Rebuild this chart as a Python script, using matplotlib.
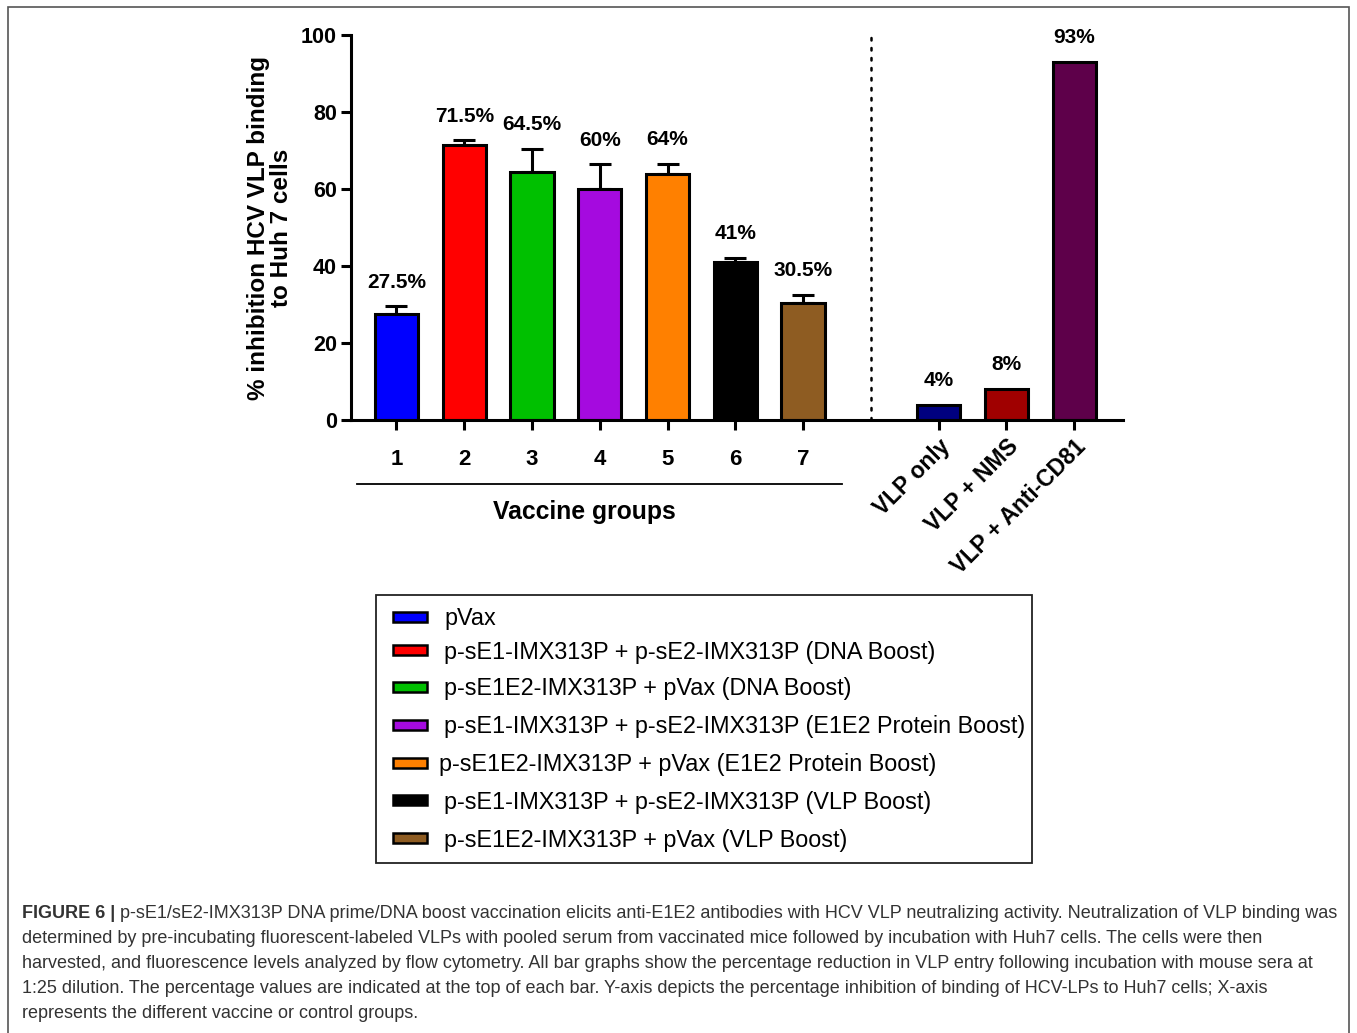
import matplotlib
matplotlib.use("Agg")
import matplotlib.pyplot as plt
from matplotlib.patches import Rectangle
import numpy as np

# ---------------- data ----------------
vaccine_groups = ["1", "2", "3", "4", "5", "6", "7"]
vaccine_values = [27.5, 71.5, 64.5, 60, 64, 41, 30.5]
vaccine_errors = [2.0, 1.1, 6.0, 6.4, 2.5, 1.2, 2.0]
vaccine_colors = ["#0000FF", "#FF0000", "#00C000", "#A50ADF", "#FF8000", "#000000", "#8E5C22"]

control_groups = ["VLP only", "VLP + NMS", "VLP + Anti-CD81"]
control_values = [4, 8, 93]
control_colors = ["#000080", "#A00000", "#5E004A"]

legend_labels = [
    "pVax",
    "p-sE1-IMX313P + p-sE2-IMX313P (DNA Boost)",
    "p-sE1E2-IMX313P + pVax (DNA Boost)",
    "p-sE1-IMX313P + p-sE2-IMX313P (E1E2 Protein Boost)",
    "p-sE1E2-IMX313P + pVax (E1E2 Protein Boost)",
    "p-sE1-IMX313P + p-sE2-IMX313P (VLP Boost)",
    "p-sE1E2-IMX313P + pVax (VLP Boost)",
]

yticks = [0, 20, 40, 60, 80, 100]
ylabel = "% inhibition HCV VLP binding\nto Huh 7 cells"
xgroup_label = "Vaccine groups"

caption_head = "FIGURE 6 | "
caption_lines = [
    "p-sE1/sE2-IMX313P DNA prime/DNA boost vaccination elicits anti-E1E2 antibodies with HCV VLP neutralizing activity. Neutralization of VLP binding was",
    "determined by pre-incubating fluorescent-labeled VLPs with pooled serum from vaccinated mice followed by incubation with Huh7 cells. The cells were then",
    "harvested, and fluorescence levels analyzed by flow cytometry. All bar graphs show the percentage reduction in VLP entry following incubation with mouse sera at",
    "1:25 dilution. The percentage values are indicated at the top of each bar. Y-axis depicts the percentage inhibition of binding of HCV-LPs to Huh7 cells; X-axis",
    "represents the different vaccine or control groups.",
]

# ---------------- figure ----------------
W, H = 1357, 1033
plt.rcParams["font.family"] = ["Liberation Sans", "DejaVu Sans"]
fig = plt.figure(figsize=(W / 100, H / 100), dpi=100)


def fx(x):
    return x / W


def fy(y):
    return 1 - y / H


# outer frame
fig.add_artist(Rectangle((fx(8), fy(1040)), fx(1349) - fx(8), fy(7) - fy(1040),
                         transform=fig.transFigure, fill=False, edgecolor="#555555", lw=1.2))

ax_left, ax_right, ax_top, ax_bot = 351, 1123, 35, 420
ax = fig.add_axes([fx(ax_left), fy(ax_bot), fx(ax_right) - fx(ax_left), fy(ax_top) - fy(ax_bot)])

x_vac = np.arange(1, len(vaccine_groups) + 1)
x_ctl = np.arange(len(vaccine_groups) + 2, len(vaccine_groups) + 2 + len(control_groups))
bw = 0.64
lw = 2.2

ax.errorbar(x_vac, vaccine_values, yerr=[np.zeros(len(vaccine_errors)), vaccine_errors],
            fmt="none", ecolor="black", elinewidth=lw, capsize=8, capthick=lw, zorder=1)
ax.bar(x_vac, vaccine_values, width=bw, color=vaccine_colors, edgecolor="black", linewidth=lw, zorder=2)
ax.bar(x_ctl, control_values, width=bw, color=control_colors, edgecolor="black", linewidth=lw, zorder=2)

# value labels
for x, v, e in zip(x_vac, vaccine_values, vaccine_errors):
    ax.annotate(f"{v:g}%", xy=(x, v + e), xytext=(0, 17.5), textcoords="offset points",
                ha="center", va="center", fontsize=15, fontweight="bold")
for x, v in zip(x_ctl, control_values):
    ax.annotate(f"{v:g}%", xy=(x, v), xytext=(0, 17.5), textcoords="offset points",
                ha="center", va="center", fontsize=15, fontweight="bold")

# dotted separator
sep = len(vaccine_groups) + 1
ax.plot([sep, sep], [0, 100], color="black", lw=1.8, linestyle=(0, (1, 3)),
        dash_capstyle="round", solid_capstyle="round", zorder=1)

ax.set_xlim(0.33, 11.72)
ax.set_ylim(0, 100)
ax.set_yticks(yticks)
ax.set_yticklabels([str(t) for t in yticks], fontsize=15.5, fontweight="bold")

ax.set_xticks(list(x_vac) + list(x_ctl))
ax.set_xticklabels(vaccine_groups + control_groups, fontsize=16, fontweight="bold")
ticks = ax.xaxis.get_major_ticks()
labels = ax.get_xticklabels()
for i, (t, lab) in enumerate(zip(ticks, labels)):
    if i < len(vaccine_groups):
        t.set_pad(14)
    else:
        t.set_pad(4)
        lab.set_fontsize(16.5)
        lab.set_rotation(45)
        lab.set_ha("right")
        lab.set_va("top")
        lab.set_rotation_mode("anchor")

for s in ["top", "right"]:
    ax.spines[s].set_visible(False)
for s in ["left", "bottom"]:
    ax.spines[s].set_linewidth(lw)
ax.tick_params(axis="both", direction="out", width=lw, length=7, colors="black")
ax.tick_params(axis="y", pad=3)

ax.set_ylabel(ylabel, fontsize=17.5, fontweight="bold", linespacing=1.0)
ax.yaxis.set_label_coords(-0.075, 0.5)

# vaccine group bracket line and label
trans = ax.get_xaxis_transform()
ax.plot([0.417, 7.57], [-0.166, -0.166], transform=trans, color="black", lw=1.3, clip_on=False)
ax.text(3.78, -0.239, xgroup_label, transform=trans, ha="center", va="center",
        fontsize=17.8, fontweight="bold")

# ---------------- legend ----------------
lx0, ly0, lx1, ly1 = 376, 595, 1032, 863
fig.add_artist(Rectangle((fx(lx0), fy(ly1)), fx(lx1) - fx(lx0), fy(ly0) - fy(ly1),
                         transform=fig.transFigure, fill=False, edgecolor="#222222", lw=1.3))
row_y = [617, 650, 687, 725, 763, 800, 838]
for yc, lab, col in zip(row_y, legend_labels, vaccine_colors):
    fig.add_artist(Rectangle((fx(393), fy(yc + 5)), fx(427) - fx(393), fy(yc - 5) - fy(yc + 5),
                             transform=fig.transFigure, facecolor=col, edgecolor="black", lw=1.8))
    tx = 439 if lab == legend_labels[4] else 444
    fig.text(fx(tx), fy(yc + 2), lab, ha="left", va="center", fontsize=16.8)

# ---------------- caption ----------------
cap_color = "#333333"
cap_fs = 13
renderer = fig.canvas.get_renderer()
head = fig.text(fx(22), fy(913), caption_head, ha="left", va="center",
                fontsize=cap_fs, fontweight="bold", color=cap_color)
bb = head.get_window_extent(renderer=renderer)
for i, line in enumerate(caption_lines):
    y = fy(913 + i * 25.2)
    if i == 0:
        fig.text(bb.x1 / W, y, line, ha="left", va="center", fontsize=cap_fs, color=cap_color)
    else:
        fig.text(fx(22), y, line, ha="left", va="center", fontsize=cap_fs, color=cap_color)

fig.savefig("out.png", dpi=100)
